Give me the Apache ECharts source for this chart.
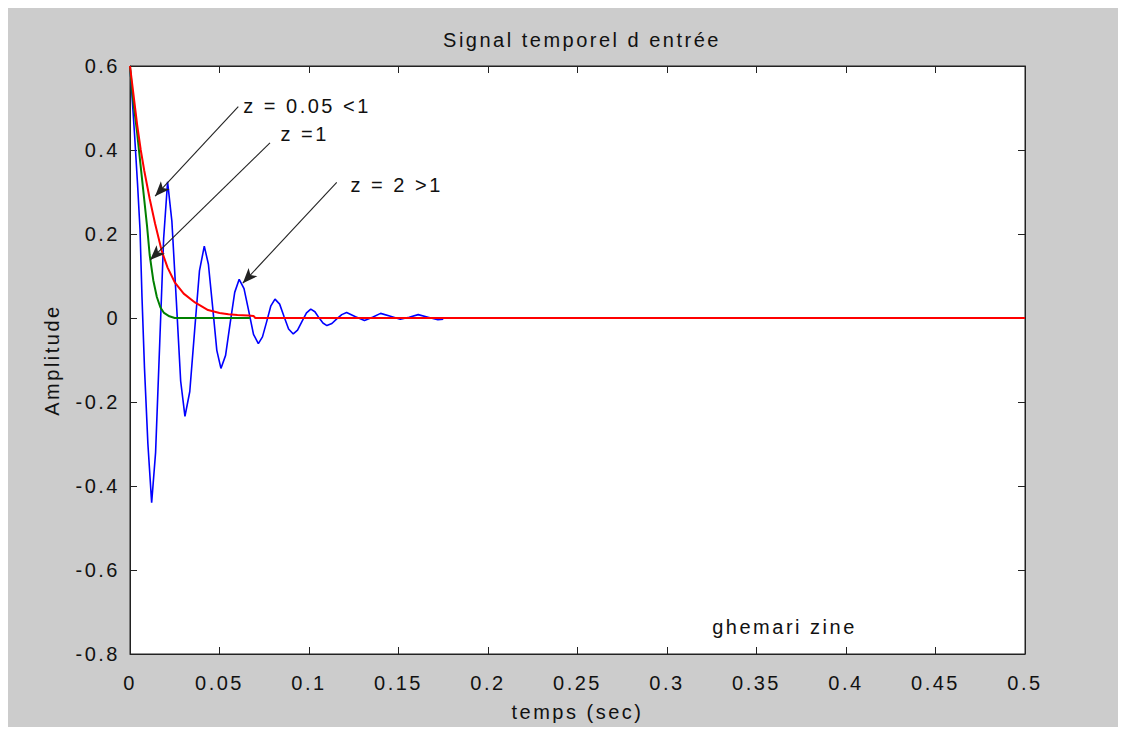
<!DOCTYPE html>
<html>
<head>
<meta charset="utf-8">
<script src="https://cdn.jsdelivr.net/npm/echarts@6/dist/echarts.min.js"></script>
<style>
  html, body { margin: 0; padding: 0; background: #ffffff; }
  #frame { position: absolute; left: 8px; top: 8px; width: 1110px; height: 719px; background: #cccccc; }
  #chart { width: 1110px; height: 719px; }
  #chart text { letter-spacing: 2.5px; }
</style>
</head>
<body>
<div id="frame"><div id="chart"></div></div>
<script>
// Step responses for three damping ratios: [time (s), amplitude]
const underdamped = [
  [0, 0.6], [0.0011, 0.53], [0.0025, 0.44], [0.0042, 0.32], [0.0056, 0.21], [0.0067, 0.05],
  [0.0081, -0.12], [0.010, -0.30], [0.0121, -0.44],
  [0.0143, -0.32], [0.0166, -0.06], [0.0188, 0.19], [0.021, 0.324],
  [0.0234, 0.23], [0.0259, 0.04], [0.0283, -0.15], [0.0307, -0.234],
  [0.0334, -0.175], [0.0361, -0.03], [0.0388, 0.112], [0.0415, 0.171],
  [0.0438, 0.128], [0.0462, 0.025], [0.0485, -0.077], [0.0508, -0.12],
  [0.0534, -0.089], [0.0559, -0.014], [0.0585, 0.061], [0.061, 0.092],
  [0.0637, 0.07], [0.0664, 0.015], [0.069, -0.039], [0.0717, -0.061],
  [0.074, -0.045], [0.0764, -0.008], [0.0787, 0.029], [0.081, 0.045],
  [0.0836, 0.033], [0.0861, 0.003], [0.0886, -0.026], [0.0912, -0.038],
  [0.0936, -0.029], [0.0961, -0.008], [0.0986, 0.012], [0.101, 0.021],
  [0.1033, 0.015], [0.1055, 0.001], [0.1078, -0.012], [0.110, -0.018],
  [0.1128, -0.013], [0.1155, -0.002], [0.1183, 0.008], [0.121, 0.013],
  [0.126, 0.003], [0.131, -0.006], [0.1355, 0.002], [0.140, 0.011],
  [0.1455, 0.004], [0.151, -0.003], [0.156, 0.002], [0.161, 0.008],
  [0.1665, 0.002], [0.172, -0.004], [0.175, -0.003]
];
const critical = [
  [0, 0.6], [0.001, 0.55], [0.002, 0.51], [0.004, 0.44], [0.006, 0.36], [0.008, 0.28],
  [0.0095, 0.22], [0.011, 0.15], [0.013, 0.09], [0.015, 0.05], [0.017, 0.025],
  [0.019, 0.012], [0.022, 0.004], [0.025, 0], [0.067, 0]
];
const overdamped = [
  [0, 0.6], [0.002, 0.53], [0.004, 0.46], [0.006, 0.40], [0.008, 0.35], [0.011, 0.284],
  [0.014, 0.225], [0.0177, 0.16], [0.021, 0.12], [0.025, 0.085], [0.030, 0.058],
  [0.0363, 0.037], [0.0436, 0.019], [0.050, 0.012], [0.055, 0.009], [0.060, 0.007],
  [0.066, 0.006], [0.069, 0.005], [0.070, 0], [0.5, 0]
];

// Axis ranges and tick steps
const xRange = [0, 0.5], xStep = 0.05;
const yRange = [-0.8, 0.6], yStep = 0.2;

// Annotation texts and arrows: label anchor, arrow start, arrow tip
const labels = [
  { text: 'z = 0.05 <1', at: [0.063, 0.505], from: [0.0605, 0.503], to: [0.014, 0.29] },
  { text: 'z =1',        at: [0.0838, 0.437], from: [0.0782, 0.417], to: [0.0112, 0.138] },
  { text: 'z = 2 >1',    at: [0.1229, 0.317], from: [0.1155, 0.323], to: [0.063, 0.083] }
];
const signature = { text: 'ghemari zine', at: [0.325, -0.736] };

const FONT = "'Liberation Sans', Arial, sans-serif";
const txt = { fontFamily: FONT, fontSize: 20, color: '#111' };

const chart = echarts.init(document.getElementById('chart'), null, { renderer: 'svg' });

const gridPos = { left: 122, top: 58, right: 93, bottom: 67 };
const tickStyle = { show: true, inside: true, length: 7, lineStyle: { color: '#222', width: 1 } };
const lineStyleAxis = { show: true, onZero: false, lineStyle: { color: '#222' } };
const fmt = v => String(Math.round(v * 100) / 100);

const annotationPoints = labels.map(l => ({ coord: l.at, value: l.text }))
  .concat([{ coord: signature.at, value: signature.text }]);
const arrowLines = labels.map(l => [{ coord: l.from }, { coord: l.to }]);

chart.setOption({
  animation: false,
  title: {
    text: 'Signal temporel d entrée',
    left: 569, top: 17, textAlign: 'center',
    textStyle: Object.assign({}, txt, { fontWeight: 'normal' })
  },
  grid: Object.assign({ show: true, backgroundColor: '#ffffff', borderColor: '#222', borderWidth: 1 }, gridPos),
  xAxis: [
    {
      type: 'value', min: xRange[0], max: xRange[1], interval: xStep,
      name: 'temps (sec)', nameLocation: 'middle', nameGap: 48, nameTextStyle: txt,
      axisLine: lineStyleAxis, axisTick: tickStyle, splitLine: { show: false },
      axisLabel: Object.assign({ margin: 19, formatter: fmt }, txt)
    },
    {
      type: 'value', position: 'top', min: xRange[0], max: xRange[1], interval: xStep,
      axisLine: lineStyleAxis, axisTick: tickStyle,
      axisLabel: { show: false }, splitLine: { show: false }
    }
  ],
  yAxis: [
    {
      type: 'value', min: yRange[0], max: yRange[1], interval: yStep,
      name: 'Amplitude', nameLocation: 'middle', nameGap: 68, nameTextStyle: txt,
      axisLine: lineStyleAxis, axisTick: tickStyle, splitLine: { show: false },
      axisLabel: Object.assign({ margin: 10, formatter: fmt }, txt)
    },
    {
      type: 'value', position: 'right', min: yRange[0], max: yRange[1], interval: yStep,
      axisLine: lineStyleAxis, axisTick: tickStyle,
      axisLabel: { show: false }, splitLine: { show: false }
    }
  ],
  series: [
    {
      name: 'z = 0.05', type: 'line', data: underdamped, showSymbol: false, z: 2,
      lineStyle: { color: '#0000ff', width: 1.6 }
    },
    {
      name: 'z = 1', type: 'line', data: critical, showSymbol: false, z: 3,
      lineStyle: { color: '#008000', width: 2 }
    },
    {
      name: 'z = 2', type: 'line', data: overdamped, showSymbol: false, z: 4,
      lineStyle: { color: '#ff0000', width: 2 },
      markLine: {
        silent: true, symbol: ['none', 'arrow'], symbolSize: [9, 15],
        label: { show: false },
        lineStyle: { color: '#222', width: 1.1, type: 'solid' },
        data: arrowLines
      },
      markPoint: {
        silent: true, symbol: 'circle', symbolSize: 1,
        itemStyle: { color: 'rgba(0,0,0,0)' },
        label: Object.assign({ show: true, position: 'right', distance: 0, formatter: p => p.value }, txt),
        data: annotationPoints
      }
    }
  ]
});
</script>
</body>
</html>
